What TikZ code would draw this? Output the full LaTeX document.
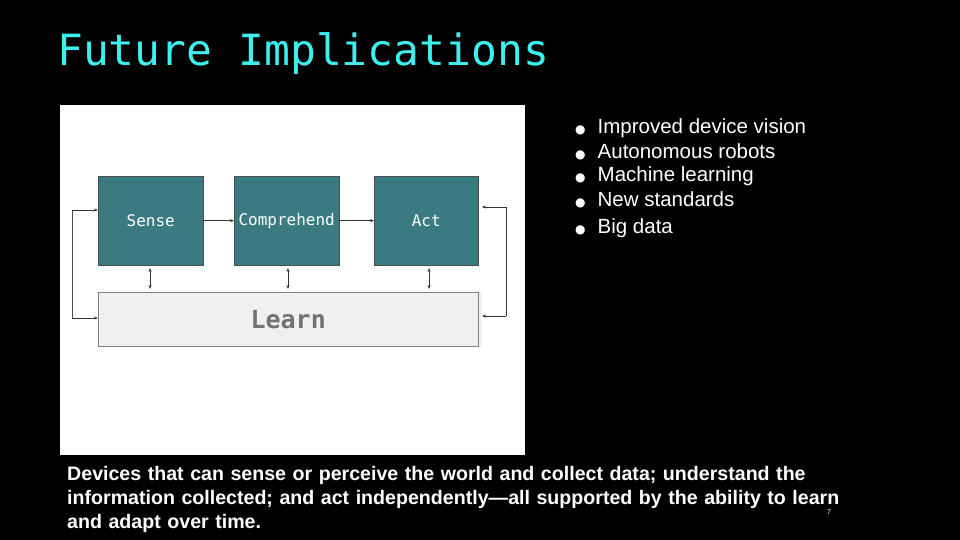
\documentclass[tikz,border=0pt]{standalone}
\usepackage{fontspec}
\setmainfont{Liberation Sans}
\newfontfamily\monofont{DejaVu Sans Mono}
\newfontfamily\dejavu{DejaVu Sans}
\usetikzlibrary{arrows.meta,calc}
\definecolor{teal1}{HTML}{3A7B82}
\definecolor{cyan1}{HTML}{3DF0F0}
\begin{document}
\begin{tikzpicture}[x=1pt,y=-1pt,
  box/.style={draw=black!70,fill=teal1,minimum width=105pt,minimum height=89pt,anchor=north west,inner sep=0,text=white,font=\monofont\fontsize{16}{18}\selectfont},
  arr/.style={-{Stealth[length=4pt,width=3pt]},black!80,line width=0.6pt},
  darr/.style={{Stealth[length=4pt,width=3pt]}-{Stealth[length=4pt,width=3pt]},black!80,line width=0.6pt},
  bul/.style={anchor=west,text=white,inner sep=0}]
\useasboundingbox (0,0) rectangle (960,540);
\fill[black] (0,0) rectangle (960,540);
\node[anchor=west,text=cyan1,font=\monofont\fontsize{43}{48}\selectfont,inner sep=0] (title) at (57,54) {Future Implications};
\fill[white] (60,105) rectangle (525,455);
\node[box] (sense) at (98,176) {Sense};
\node[box] (comp) at (234,176) {Comprehend};
\node[box,minimum width=104pt] (act) at (374,176) {Act};
\node[draw=black!50,fill=black!6,minimum width=380pt,minimum height=54pt,anchor=north west,inner sep=0,text=black!55,font=\monofont\bfseries\fontsize{25}{28}\selectfont] (learn) at (98,292) {Learn};
\fill[black!6] (478.5,291) rectangle (482,347);
\draw[arr] (sense.east) -- (comp.west);
\draw[arr] (comp.east) -- (act.west);
\coordinate (l1) at (72,210); \coordinate (l2) at (72,318);
\draw[black!70,line width=0.6pt] (l1) -- (l2);
\draw[arr] (l1) -- (l1 -| sense.west);
\draw[arr] (l2) -- (l2 -| learn.west);
\coordinate (r1) at (506,207); \coordinate (r2) at (506,316);
\draw[arr] (r2) -- (r1) -- ($(r1)+(-24,0)$);
\draw[arr] (r2) -- ($(r2)+(-24,0)$);
\foreach \n/\x in {sense/150,comp/288,act/429}
  \draw[darr] (\x,268) -- (\x,289);
\foreach \t/\y in {Improved device vision/128,Autonomous robots/152,Machine learning/176,New standards/200,Big data/228}
  \node[bul] at (575,\y) {{\dejavu\fontsize{12}{12}\selectfont ●}\hspace{12pt}\fontsize{20.5}{22}\selectfont\t};
\node[anchor=north west,text=white,font=\bfseries\fontsize{19.6}{24}\selectfont,text width=850pt,inner sep=0,align=left] (cap) at (67,466) {Devices that can sense or perceive the world and collect data; understand the\\information collected; and act independently---all supported by the ability to learn\\and adapt over time.};
\node[text=white,font=\fontsize{7}{8}\selectfont,inner sep=0] (pg) at (829,512) {7};
\end{tikzpicture}
\end{document}
